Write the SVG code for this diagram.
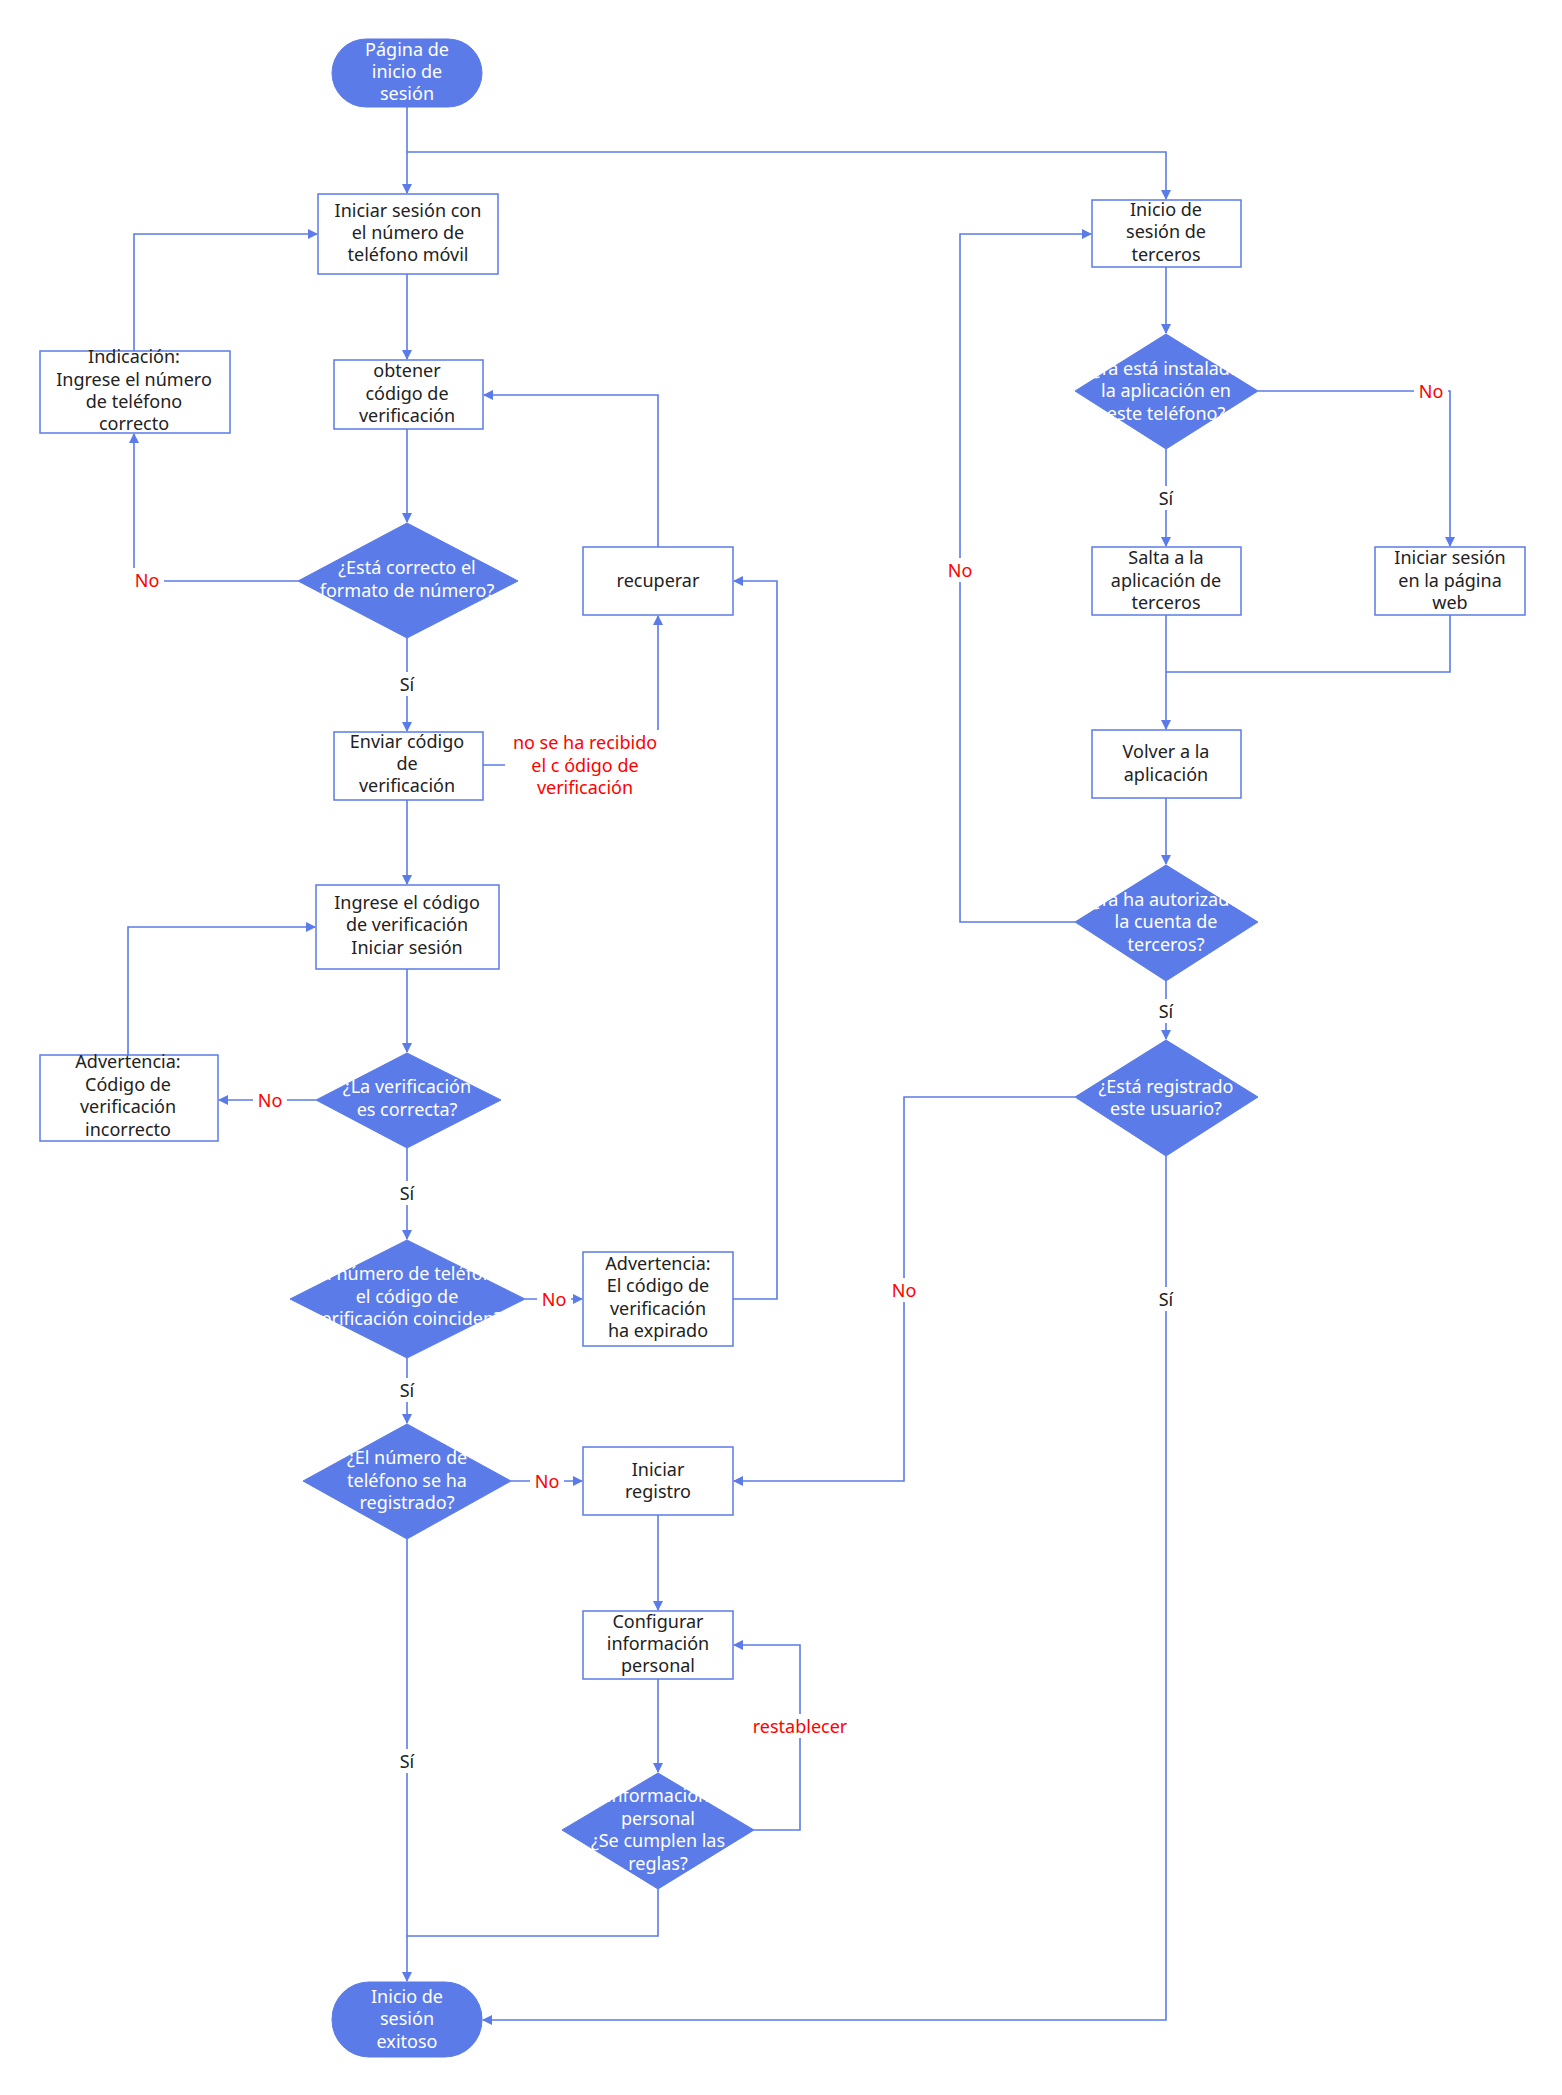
<svg xmlns="http://www.w3.org/2000/svg" width="1562" height="2095" viewBox="0 0 1562 2095">
<style>
text{font-family:"Noto Sans","Liberation Sans",sans-serif;font-size:18px;text-anchor:middle}
.box{fill:#fff;stroke:#5b7be9;stroke-width:1.5}
.fill{fill:#5b7be9;stroke:#5b7be9}
.w{fill:#fff}
.k{fill:#222}
.r{fill:#ff0000}
.c{fill:none;stroke:#5b7be9;stroke-width:1.6}
.lb{fill:#fff;stroke:none}
</style>
<defs>
<marker id="a" viewBox="0 0 10 10" refX="9" refY="5" markerWidth="10" markerHeight="10" markerUnits="userSpaceOnUse" orient="auto"><path d="M0,0 L10,5 L0,10 z" fill="#5b7be9"/></marker>
</defs>
<rect width="1562" height="2095" fill="#fff"/>
<g id="connectors">
<path class="c" d="M407,107 V193" marker-end="url(#a)"/>
<path class="c" d="M407,152 H1166 V199" marker-end="url(#a)"/>
<path class="c" d="M407,274 V359" marker-end="url(#a)"/>
<path class="c" d="M407,429 V522" marker-end="url(#a)"/>
<path class="c" d="M298,581 H134 V434" marker-end="url(#a)"/>
<path class="c" d="M134,351 V234 H317" marker-end="url(#a)"/>
<path class="c" d="M658,547 V395 H484" marker-end="url(#a)"/>
<path class="c" d="M407,638 V731" marker-end="url(#a)"/>
<path class="c" d="M483,765 H658 V616" marker-end="url(#a)"/>
<path class="c" d="M407,800 V884" marker-end="url(#a)"/>
<path class="c" d="M407,969 V1052" marker-end="url(#a)"/>
<path class="c" d="M316,1100 H219" marker-end="url(#a)"/>
<path class="c" d="M128,1055 V927 H315" marker-end="url(#a)"/>
<path class="c" d="M407,1148 V1239" marker-end="url(#a)"/>
<path class="c" d="M525,1299 H582" marker-end="url(#a)"/>
<path class="c" d="M733,1299 H777 V581 H734" marker-end="url(#a)"/>
<path class="c" d="M407,1358 V1423" marker-end="url(#a)"/>
<path class="c" d="M511,1481 H582" marker-end="url(#a)"/>
<path class="c" d="M407,1539 V1981" marker-end="url(#a)"/>
<path class="c" d="M658,1515 V1610" marker-end="url(#a)"/>
<path class="c" d="M658,1679 V1772" marker-end="url(#a)"/>
<path class="c" d="M754,1830 H800 V1645 H734" marker-end="url(#a)"/>
<path class="c" d="M658,1889 V1936 H407"/>
<path class="c" d="M1166,267 V333" marker-end="url(#a)"/>
<path class="c" d="M1258,391 H1450 V546" marker-end="url(#a)"/>
<path class="c" d="M1166,449 V546" marker-end="url(#a)"/>
<path class="c" d="M1166,615 V729" marker-end="url(#a)"/>
<path class="c" d="M1450,615 V672 H1166"/>
<path class="c" d="M1166,798 V864" marker-end="url(#a)"/>
<path class="c" d="M1075,922 H960 V234 H1091" marker-end="url(#a)"/>
<path class="c" d="M1166,981 V1039" marker-end="url(#a)"/>
<path class="c" d="M1075,1097 H904 V1481 H734" marker-end="url(#a)"/>
<path class="c" d="M1166,1156 V2020 H483" marker-end="url(#a)"/>
<g>
<rect class="lb" x="130" y="568" width="34" height="24"/><text class="r" x="147" y="587">No</text>
<rect class="lb" x="398" y="672" width="18" height="24"/><text class="k" x="407" y="691">Sí</text>
<rect class="lb" x="505" y="730" width="160" height="70"/>
<text class="r" x="585" y="749">no se ha recibido</text>
<text class="r" x="585" y="772">el c ódigo de</text>
<text class="r" x="585" y="794">verificación</text>
<rect class="lb" x="253" y="1088" width="34" height="24"/><text class="r" x="270" y="1107">No</text>
<rect class="lb" x="398" y="1181" width="18" height="24"/><text class="k" x="407" y="1200">Sí</text>
<rect class="lb" x="537" y="1287" width="34" height="24"/><text class="r" x="554" y="1306">No</text>
<rect class="lb" x="398" y="1378" width="18" height="24"/><text class="k" x="407" y="1397">Sí</text>
<rect class="lb" x="530" y="1469" width="34" height="24"/><text class="r" x="547" y="1488">No</text>
<rect class="lb" x="398" y="1749" width="18" height="24"/><text class="k" x="407" y="1768">Sí</text>
<rect class="lb" x="752" y="1714" width="96" height="24"/><text class="r" x="800" y="1733">restablecer</text>
<rect class="lb" x="1414" y="379" width="34" height="24"/><text class="r" x="1431" y="398">No</text>
<rect class="lb" x="1157" y="486" width="18" height="24"/><text class="k" x="1166" y="505">Sí</text>
<rect class="lb" x="943" y="558" width="34" height="24"/><text class="r" x="960" y="577">No</text>
<rect class="lb" x="1157" y="999" width="18" height="24"/><text class="k" x="1166" y="1018">Sí</text>
<rect class="lb" x="887" y="1278" width="34" height="24"/><text class="r" x="904" y="1297">No</text>
<rect class="lb" x="1157" y="1287" width="18" height="24"/><text class="k" x="1166" y="1306">Sí</text>
</g>
</g>
<g id="start"><rect class="fill" x="332" y="39" width="150" height="68" rx="34"/><text class="w" x="407" y="56">Página de</text><text class="w" x="407" y="78">inicio de</text><text class="w" x="407" y="100">sesión</text></g>
<g id="n1"><rect class="box" x="318" y="194" width="180" height="80"/><text class="k" x="408" y="217">Iniciar sesión con</text><text class="k" x="408" y="239">el número de</text><text class="k" x="408" y="261">teléfono móvil</text></g>
<g id="n2"><rect class="box" x="334" y="360" width="149" height="69"/><text class="k" x="407" y="377">obtener</text><text class="k" x="407" y="400">código de</text><text class="k" x="407" y="422">verificación</text></g>
<g id="d1"><polygon class="fill" points="407,523 518,581 407,638 298,581"/><text class="w" x="407" y="574">¿Está correcto el</text><text class="w" x="407" y="597">formato de número?</text></g>
<g id="n3"><rect class="box" x="40" y="351" width="190" height="82"/><text class="k" x="134" y="363">Indicación:</text><text class="k" x="134" y="386">Ingrese el número</text><text class="k" x="134" y="408">de teléfono</text><text class="k" x="134" y="430">correcto</text></g>
<g id="n4"><rect class="box" x="583" y="547" width="150" height="68"/><text class="k" x="658" y="587">recuperar</text></g>
<g id="n5"><rect class="box" x="334" y="732" width="149" height="68"/><text class="k" x="407" y="748">Enviar código</text><text class="k" x="407" y="770">de</text><text class="k" x="407" y="792">verificación</text></g>
<g id="n6"><rect class="box" x="316" y="885" width="183" height="84"/><text class="k" x="407" y="909">Ingrese el código</text><text class="k" x="407" y="931">de verificación</text><text class="k" x="407" y="954">Iniciar sesión</text></g>
<g id="d2"><polygon class="fill" points="407,1053 501,1100 407,1148 316,1100"/><text class="w" x="407" y="1093">¿La verificación</text><text class="w" x="407" y="1116">es correcta?</text></g>
<g id="n7"><rect class="box" x="40" y="1055" width="178" height="86"/><text class="k" x="128" y="1068">Advertencia:</text><text class="k" x="128" y="1091">Código de</text><text class="k" x="128" y="1113">verificación</text><text class="k" x="128" y="1136">incorrecto</text></g>
<g id="d3"><polygon class="fill" points="407,1240 525,1299 407,1358 290,1299"/><text class="w" x="407" y="1280">¿El número de teléfono</text><text class="w" x="407" y="1303">el código de</text><text class="w" x="407" y="1325">verificación coinciden?</text></g>
<g id="n8"><rect class="box" x="583" y="1252" width="150" height="94"/><text class="k" x="658" y="1270">Advertencia:</text><text class="k" x="658" y="1292">El código de</text><text class="k" x="658" y="1315">verificación</text><text class="k" x="658" y="1337">ha expirado</text></g>
<g id="d4"><polygon class="fill" points="407,1424 511,1481 407,1539 303,1481"/><text class="w" x="407" y="1464">¿El número de</text><text class="w" x="407" y="1487">teléfono se ha</text><text class="w" x="407" y="1509">registrado?</text></g>
<g id="n9"><rect class="box" x="583" y="1447" width="150" height="68"/><text class="k" x="658" y="1476">Iniciar</text><text class="k" x="658" y="1498">registro</text></g>
<g id="n10"><rect class="box" x="583" y="1611" width="150" height="68"/><text class="k" x="658" y="1628">Configurar</text><text class="k" x="658" y="1650">información</text><text class="k" x="658" y="1672">personal</text></g>
<g id="d5"><polygon class="fill" points="658,1773 754,1830 658,1889 562,1830"/><text class="w" x="658" y="1802">información</text><text class="w" x="658" y="1825">personal</text><text class="w" x="658" y="1847">¿Se cumplen las</text><text class="w" x="658" y="1870">reglas?</text></g>
<g id="end"><rect class="fill" x="332" y="1982" width="150" height="75" rx="37"/><text class="w" x="407" y="2003">Inicio de</text><text class="w" x="407" y="2025">sesión</text><text class="w" x="407" y="2048">exitoso</text></g>
<g id="r1"><rect class="box" x="1092" y="200" width="149" height="67"/><text class="k" x="1166" y="216">Inicio de</text><text class="k" x="1166" y="238">sesión de</text><text class="k" x="1166" y="261">terceros</text></g>
<g id="r2"><polygon class="fill" points="1166,334 1258,391 1166,449 1075,391"/><text class="w" x="1166" y="375">¿Ya está instalada</text><text class="w" x="1166" y="397">la aplicación en</text><text class="w" x="1166" y="420">este teléfono?</text></g>
<g id="r3"><rect class="box" x="1092" y="547" width="149" height="68"/><text class="k" x="1166" y="564">Salta a la</text><text class="k" x="1166" y="587">aplicación de</text><text class="k" x="1166" y="609">terceros</text></g>
<g id="r4"><rect class="box" x="1375" y="547" width="150" height="68"/><text class="k" x="1450" y="564">Iniciar sesión</text><text class="k" x="1450" y="587">en la página</text><text class="k" x="1450" y="609">web</text></g>
<g id="r5"><rect class="box" x="1092" y="730" width="149" height="68"/><text class="k" x="1166" y="758">Volver a la</text><text class="k" x="1166" y="781">aplicación</text></g>
<g id="r6"><polygon class="fill" points="1166,865 1258,922 1166,981 1075,922"/><text class="w" x="1166" y="906">¿Ya ha autorizado</text><text class="w" x="1166" y="928">la cuenta de</text><text class="w" x="1166" y="951">terceros?</text></g>
<g id="r7"><polygon class="fill" points="1166,1040 1258,1097 1166,1156 1075,1097"/><text class="w" x="1166" y="1093">¿Está registrado</text><text class="w" x="1166" y="1115">este usuario?</text></g>
</svg>
